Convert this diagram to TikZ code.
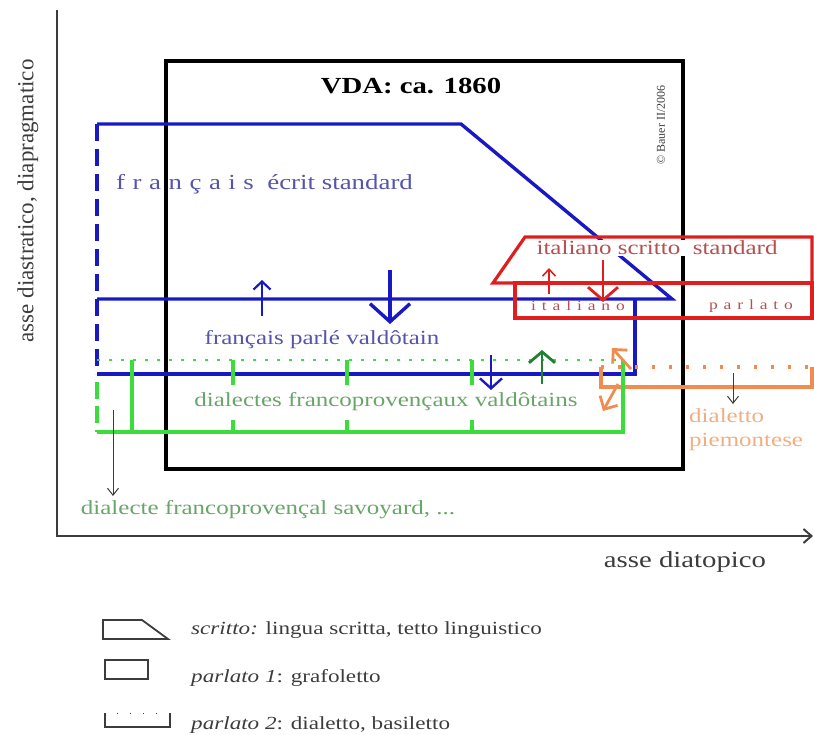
\documentclass[tikz,border=0pt]{standalone}
\usepackage{fontspec}
\setmainfont{Liberation Serif}[FakeStretch=1.25]
\newfontfamily\plainfont{Liberation Serif}
\newfontfamily\spacedfont{Liberation Serif}[FakeStretch=1.25,LetterSpace=35]
\newfontfamily\widefont{Liberation Serif}[FakeStretch=1.25,LetterSpace=42]
\usetikzlibrary{arrows.meta}

\definecolor{axisgray}{RGB}{60,60,60}
\definecolor{frblue}{RGB}{25,25,195}
\definecolor{frtext}{RGB}{85,85,170}
\definecolor{dialgreen}{RGB}{60,220,60}
\definecolor{dialtext}{RGB}{105,165,105}
\definecolor{darkgreen}{RGB}{30,130,50}
\definecolor{itred}{RGB}{225,30,30}
\definecolor{ittext}{RGB}{180,80,80}
\definecolor{piemorange}{RGB}{240,140,80}
\definecolor{piemtext}{RGB}{240,175,130}

\tikzset{
  axis/.style={line width=2pt, draw=axisgray},
  frline/.style={line width=3.4pt, draw=frblue},
  dialline/.style={line width=3.4pt, draw=dialgreen},
  itline/.style={line width=3.2pt, draw=itred},
  piemline/.style={line width=3.6pt, draw=piemorange},
  legendline/.style={line width=1.8pt, draw=axisgray},
  lbl/.style={font=\fontsize{20}{24}\selectfont, inner sep=1pt},
  biglbl/.style={font=\fontsize{23}{27}\selectfont, inner sep=1pt},
  legendlbl/.style={font=\fontsize{18.5}{21}\selectfont, inner sep=1pt, anchor=west, text=axisgray}
}

\begin{document}
\begin{tikzpicture}[x=1pt, y=-1pt]
    \useasboundingbox (0,0) rectangle (814,735);

    % Axes
    \draw[axis] (57,10) -- (57,536);
    \draw[axis, -{Straight Barb[length=8pt,width=14pt]}] (56,536) -- (813,536);
    \node[biglbl, text=axisgray, rotate=90] (ylab) at (28,201) {\plainfont asse diastratico, diapragmatico};
    \node[biglbl, text=axisgray] (xlab) at (685,562) {asse diatopico};

    % VDA frame
    \draw[line width=3.3pt] (166,61) rectangle (683,469);
    \node[biglbl, font=\fontsize{23}{27}\selectfont\bfseries] (vda) at (411,86) {VDA: ca. 1860};
    \node[inner sep=0pt, rotate=90, text=axisgray, font=\fontsize{12}{14}\selectfont\plainfont] (copy) at (661,125) {\textcopyright{} Bauer II/2006};

    % francais: scritto and parlato 1
    \draw[frline] (97,124) -- (461,124) -- (672,299) -- (97,299);
    \draw[frline] (97,374) -- (635,374) -- (635,299);
    \draw[frline, dash pattern=on 17pt off 8pt] (97,124) -- (97,374);
    \node[lbl, anchor=west, text=frtext, font=\fontsize{21.5}{24}\selectfont] (frscritto) at (115,184) {{\spacedfont français}\ \ écrit standard};
    \node[lbl, text=frtext] (frparle) at (322,340) {français parlé valdôtain};

    % dialetto piemontese
    \draw[piemline, dash pattern=on 2.5pt off 14.5pt] (601,367) -- (812,367);
    \draw[piemline] (601,367) -- (601,387) -- (812,387) -- (812,367);

    % dialectes francoprovencaux
    \draw[dialline, line width=2.6pt, dash pattern=on 2.5pt off 9.5pt] (97,360) -- (623,360);
    \draw[dialline] (623,360) -- (623,432) -- (97,432);
    \draw[dialline, dash pattern=on 17pt off 7pt] (97,382) -- (97,432);
    \draw[dialline] (132,360) -- (132,432);
    \foreach \x in {233,347,472}{
        \draw[dialline] (\x,360) -- (\x,385);
        \draw[dialline] (\x,420) -- (\x,432);
    }
    \node[lbl, text=dialtext] (dialfp) at (386,402) {dialectes francoprovençaux valdôtains};
    \node[lbl, text=dialtext] (savoy) at (268,510) {dialecte francoprovençal savoyard, ...};

    % italiano: scritto and parlato 1
    \node[lbl, fill=white, text=ittext, inner xsep=4pt] (itscritto) at (657,248) {italiano scritto\ \ standard};
    \draw[itline] (493,283) -- (525,237) -- (812,237) -- (812,283) -- cycle;
    \draw[itline] (515,283) rectangle (812,318);
    \node[inner sep=0pt, text=ittext, font=\fontsize{14}{16}\selectfont\widefont] (itit) at (578,306) {italiano};
    \node[inner sep=0pt, text=ittext, font=\fontsize{14}{16}\selectfont\widefont] (itparl) at (751,306) {parlato};
    \node[lbl, anchor=west, text=piemtext, align=left] (piem) at (688,430) {dialetto\\piemontese};

    % Arrows
    \draw[frline, line width=2.2pt, -{Straight Barb[length=8pt,width=17pt]}] (262,316) -- (262,280);
    \draw[frline, line width=3.4pt, -{Straight Barb[length=18pt,width=40pt]}] (390,270) -- (390,324);
    \draw[frline, line width=2.4pt, -{Straight Barb[length=10pt,width=22pt]}] (491,355) -- (491,390);
    \draw[line width=2.8pt, darkgreen, -{Straight Barb[length=11pt,width=26pt]}] (542,384) -- (542,350);
    \draw[itline, line width=1.6pt, -{Straight Barb[length=7pt,width=13pt]}] (549,294) -- (549,268);
    \draw[itline, line width=2.8pt, -{Straight Barb[length=13pt,width=30pt]}] (603,260) -- (603,302);
    \draw[piemorange, line width=2.8pt, -{Straight Barb[length=10pt,width=20pt]}] (631,369) -- (612,348);
    \draw[piemorange, line width=2.8pt, -{Straight Barb[length=10pt,width=20pt]}] (618,384) -- (603,411);
    \draw[axisgray, line width=1pt, -{Straight Barb[length=7pt,width=11pt]}] (113,410) -- (113,496);
    \draw[axisgray, line width=1pt, -{Straight Barb[length=7pt,width=11pt]}] (733,373) -- (733,404);

    % Legend
    \draw[legendline] (103,620) -- (142,620) -- (168,639) -- (103,639) -- cycle;
    \node[legendlbl] (leg1) at (190,630) {\textit{scritto:} lingua scritta, tetto linguistico};
    \draw[legendline] (105,660) rectangle (148,679);
    \node[legendlbl] (leg2) at (190,678) {\textit{parlato 1}: grafoletto};
    \draw[legendline] (105,713) -- (105,727) -- (170,727) -- (170,713);
    \draw[legendline, line width=1pt, dash pattern=on 1pt off 12pt] (117,713) -- (170,713);
    \node[legendlbl] (leg3) at (190,725) {\textit{parlato 2}: dialetto, basiletto};
\end{tikzpicture}
\end{document}
